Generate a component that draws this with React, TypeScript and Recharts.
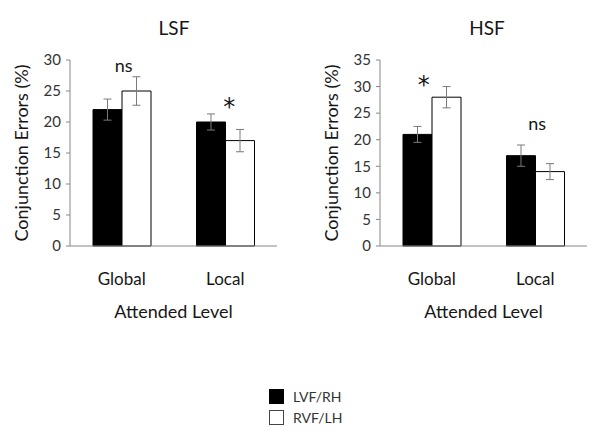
import React from "react";
import {
  BarChart,
  Bar,
  XAxis,
  YAxis,
  ErrorBar,
  ReferenceDot,
} from "recharts";

// attended level categories
const levels = ["Global", "Local"];

// LSF panel (conjunction errors, %)
const lsfLvf = [22, 20];
const lsfLvfErr = [1.7, 1.3];
const lsfRvf = [25, 17];
const lsfRvfErr = [2.3, 1.8];
const lsfMarks = ["ns", "*"];
const lsfMarkY = [29.1, 22.5];

// HSF panel
const hsfLvf = [21, 17];
const hsfLvfErr = [1.5, 2];
const hsfRvf = [28, 14];
const hsfRvfErr = [2, 1.5];
const hsfMarks = ["*", "ns"];
const hsfMarkY = [30.4, 23];

const lsfTicks = [0, 5, 10, 15, 20, 25, 30];
const hsfTicks = [0, 5, 10, 15, 20, 25, 30, 35];

const FONT = "Lato, 'Open Sans', sans-serif";
const AXIS = "#868686";
const INK = "#161616";

const buildRows = (lvf: number[], lvfErr: number[], rvf: number[], rvfErr: number[]) =>
  levels.map((level, i) => ({
    level,
    lvf: lvf[i],
    lvfErr: lvfErr[i],
    rvf: rvf[i],
    rvfErr: rvfErr[i],
  }));

interface PanelProps {
  rows: ReturnType<typeof buildRows>;
  ticks: number[];
  max: number;
  marks: string[];
  markY: number[];
  markDx: number[];
  yAxisWidth: number;
  rightMargin: number;
  labelDx: number;
}

const Panel: React.FC<PanelProps> = ({
  rows,
  ticks,
  max,
  marks,
  markY,
  markDx,
  yAxisWidth,
  rightMargin,
  labelDx,
}) => (
  <BarChart
    width={300}
    height={330}
    data={rows}
    margin={{ top: 60, right: rightMargin, bottom: 9, left: 0 }}
    barGap={0}
    barSize={29}
  >
    <XAxis
      dataKey="level"
      stroke={AXIS}
      tickLine={false}
      tickSize={6}
      tickMargin={21}
      height={75}
      tick={{ fill: INK, fontSize: 17, fontFamily: FONT }}
      label={{
        value: "Attended Level",
        position: "insideBottom",
        offset: 3,
        fill: INK,
        fontSize: 18,
        fontFamily: FONT,
      }}
    />
    <YAxis
      width={yAxisWidth}
      domain={[0, max]}
      ticks={ticks}
      interval={0}
      stroke={AXIS}
      tickSize={4}
      tickMargin={5}
      tick={{ fill: "#333", fontSize: 15, fontFamily: FONT }}
      label={{
        value: "Conjunction Errors (%)",
        angle: -90,
        position: "center",
        dx: labelDx,
        fill: INK,
        fontSize: 18,
        fontFamily: FONT,
      }}
    />
    <Bar dataKey="lvf" fill="#000" stroke="#000" strokeWidth={1} isAnimationActive={false}>
      <ErrorBar dataKey="lvfErr" width={4} stroke="#7a7a7a" strokeWidth={1} />
    </Bar>
    <Bar dataKey="rvf" fill="#fff" stroke="#000" strokeWidth={1} isAnimationActive={false}>
      <ErrorBar dataKey="rvfErr" width={4} stroke="#7a7a7a" strokeWidth={1} />
    </Bar>
    {levels.map((level, i) => (
      <ReferenceDot
        key={level}
        x={level}
        y={markY[i]}
        r={0}
        fill="none"
        stroke="none"
        label={{
          value: marks[i],
          position: "center",
          dx: markDx[i],
          fill: INK,
          fontSize: marks[i] === "*" ? 24 : 18,
          fontFamily: marks[i] === "*" ? "'DejaVu Sans', sans-serif" : FONT,
        }}
      />
    ))}
  </BarChart>
);

const titleStyle: React.CSSProperties = {
  position: "absolute",
  top: 16,
  width: 100,
  textAlign: "center",
  fontFamily: FONT,
  fontSize: 19,
  color: INK,
};

const legendRow: React.CSSProperties = {
  display: "flex",
  alignItems: "center",
  height: 21,
  fontFamily: FONT,
  fontSize: 14,
  color: "#333",
};

export default function App() {
  return (
    <div
      style={{
        position: "absolute",
        left: 0,
        top: 0,
        width: 600,
        height: 437,
        background: "#fff",
        overflow: "hidden",
      }}
    >
      <div style={{ ...titleStyle, left: 124 }}>LSF</div>
      <div style={{ ...titleStyle, left: 437 }}>HSF</div>
      <div style={{ position: "absolute", left: 0, top: 0 }}>
        <Panel
          rows={buildRows(lsfLvf, lsfLvfErr, lsfRvf, lsfRvfErr)}
          ticks={lsfTicks}
          max={30}
          marks={lsfMarks}
          markY={lsfMarkY}
          markDx={[2, 4]}
          yAxisWidth={70}
          rightMargin={23}
          labelDx={-13}
        />
      </div>
      <div style={{ position: "absolute", left: 300, top: 0 }}>
        <Panel
          rows={buildRows(hsfLvf, hsfLvfErr, hsfRvf, hsfRvfErr)}
          ticks={hsfTicks}
          max={35}
          marks={hsfMarks}
          markY={hsfMarkY}
          markDx={[-8, 2]}
          yAxisWidth={80}
          rightMargin={13}
          labelDx={-8}
        />
      </div>
      <div style={{ position: "absolute", left: 269, top: 386 }}>
        <div style={legendRow}>
          <span style={{ width: 13, height: 13, background: "#000", border: "1px solid #000", marginRight: 9 }} />
          LVF/RH
        </div>
        <div style={legendRow}>
          <span style={{ width: 13, height: 13, background: "#fff", border: "1px solid #444", marginRight: 9 }} />
          RVF/LH
        </div>
      </div>
    </div>
  );
}
